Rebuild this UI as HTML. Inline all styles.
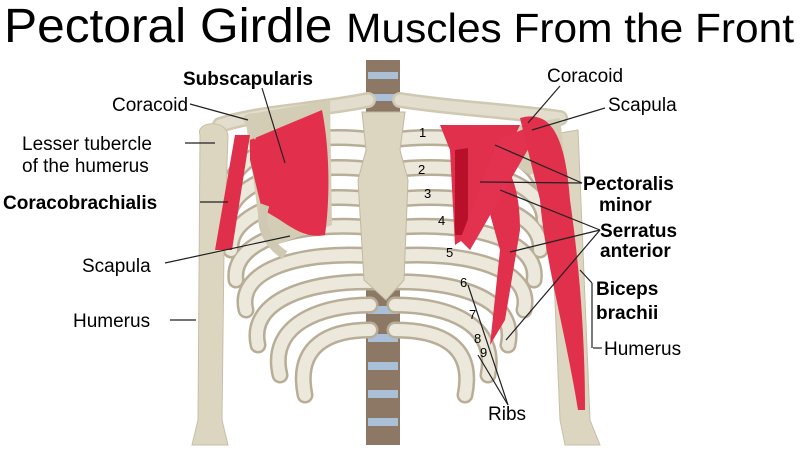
<!DOCTYPE html>
<html><head><meta charset="utf-8"><style>
html,body{margin:0;padding:0;background:#fff;}
svg{display:block;}
text{font-family:"Liberation Sans",sans-serif;}
</style></head><body>
<svg width="800" height="450" viewBox="0 0 800 450" xmlns="http://www.w3.org/2000/svg">
<rect width="800" height="450" fill="#fff"/>
<text x="4" y="42" font-size="48" fill="#000" textLength="790" lengthAdjust="spacingAndGlyphs">Pectoral Girdle <tspan font-size="41">Muscles From the Front</tspan></text>

<!-- spine -->
<g>
<rect x="366" y="60" width="34" height="60" fill="#8c7864"/>
<rect x="366" y="285" width="34" height="160" fill="#8c7864"/>
<g fill="#a9c0d8">
<rect x="368" y="72" width="30" height="7"/><rect x="368" y="94" width="30" height="7"/>
<rect x="368" y="306" width="30" height="8"/><rect x="368" y="334" width="30" height="8"/>
<rect x="368" y="362" width="30" height="8"/><rect x="368" y="390" width="30" height="8"/><rect x="368" y="418" width="30" height="8"/>
</g>
</g>

<g fill="none" stroke-linecap="round">
<g stroke="#b8ae98" stroke-width="17">
<path d="M375 140 C300 130 236 150 228 190"/>
<path d="M375 170 C300 160 230 180 228 220"/>
<path d="M375 200 C300 190 228 210 231 250"/>
<path d="M375 228 C300 220 231 240 236 280"/>
<path d="M375 256 C300 250 236 270 246 310"/>
<path d="M375 282 C310 280 248 300 258 345"/>
<path d="M370 305 C320 305 268 325 280 375"/>
<path d="M370 330 C330 330 295 345 305 395"/>
<path d="M390 140 C470 130 534 150 544 190"/>
<path d="M390 170 C470 160 544 180 544 220"/>
<path d="M390 200 C470 190 544 210 540 250"/>
<path d="M390 228 C470 220 540 240 534 280"/>
<path d="M390 256 C470 250 534 270 524 310"/>
<path d="M390 282 C460 280 518 300 508 345"/>
<path d="M395 305 C450 305 498 325 488 375"/>
<path d="M395 330 C440 330 475 345 465 395"/>
</g>
<g stroke="#ece8dc" stroke-width="12">
<path d="M375 140 C300 130 236 150 228 190"/>
<path d="M375 170 C300 160 230 180 228 220"/>
<path d="M375 200 C300 190 228 210 231 250"/>
<path d="M375 228 C300 220 231 240 236 280"/>
<path d="M375 256 C300 250 236 270 246 310"/>
<path d="M375 282 C310 280 248 300 258 345"/>
<path d="M370 305 C320 305 268 325 280 375"/>
<path d="M370 330 C330 330 295 345 305 395"/>
<path d="M390 140 C470 130 534 150 544 190"/>
<path d="M390 170 C470 160 544 180 544 220"/>
<path d="M390 200 C470 190 544 210 540 250"/>
<path d="M390 228 C470 220 540 240 534 280"/>
<path d="M390 256 C470 250 534 270 524 310"/>
<path d="M390 282 C460 280 518 300 508 345"/>
<path d="M395 305 C450 305 498 325 488 375"/>
<path d="M395 330 C440 330 475 345 465 395"/>
</g>
</g>

<!-- sternum -->
<path d="M362 112 L405 112 L400 150 L408 180 L404 280 L386 300 L364 280 L358 180 L366 150 Z" fill="#dcd6c0" stroke="#c0b8a0"/>

<!-- clavicles -->
<path d="M220 125 C260 112 320 110 368 100" stroke="#cfc8b2" stroke-width="16" fill="none" stroke-linecap="round"/>
<path d="M220 125 C260 112 320 110 368 100" stroke="#e2ddcc" stroke-width="11" fill="none" stroke-linecap="round"/>
<path d="M400 100 C450 108 500 110 560 118" stroke="#cfc8b2" stroke-width="16" fill="none" stroke-linecap="round"/>
<path d="M400 100 C450 108 500 110 560 118" stroke="#e2ddcc" stroke-width="11" fill="none" stroke-linecap="round"/>

<!-- left humerus -->
<path d="M200 135 C195 122 225 118 228 135 L224 250 L222 420 L228 445 L192 445 L198 420 Z" fill="#dcd6c0" stroke="#c6bfa8"/>
<!-- right humerus -->
<path d="M548 135 L578 130 L590 420 L600 445 L565 445 L560 420 Z" fill="#dcd6c0" stroke="#c6bfa8"/>
<path d="M520 125 L560 118 L565 160 L530 175 L505 160 Z" fill="#d4cdb6"/>

<!-- left scapula & subscapularis -->
<path d="M245 115 L330 100 L332 225 L275 245 L260 230 Z" fill="#d4cdb6"/>
<path d="M250 140 L322 110 C330 150 330 200 325 235 C300 240 285 220 262 210 L250 160 Z" fill="#e2304c"/>
<path d="M242 118 C250 110 262 112 262 122 L255 140 Z" fill="#d4cdb6"/>
<path d="M265 205 C258 225 268 245 285 255" stroke="#cfc8b2" stroke-width="9" fill="none"/>
<path d="M235 135 L250 135 L232 250 L215 250 Z" fill="#df2f4b"/>

<!-- right muscles -->
<path d="M440 125 L520 125 L470 235 L455 245 L450 150 Z" fill="#e0304b"/>
<path d="M455 150 L468 148 L468 235 L455 235 Z" fill="#b8102a"/>
<path d="M475 160 C500 150 520 170 520 230 L505 320 L490 345 L500 250 Z" fill="#e0304b"/>
<path d="M498 140 L545 120 L470 250 L460 240 Z" fill="#e23250"/>
<path d="M520 118 C548 110 565 130 570 200 C580 270 585 340 585 410 L578 410 C565 330 545 260 540 200 Z" fill="#e0304b"/>

<g font-size="13" fill="#000">
<text x="419" y="137">1</text><text x="418" y="174">2</text><text x="424" y="198">3</text>
<text x="438" y="225">4</text><text x="446" y="257">5</text><text x="460" y="287">6</text>
<text x="469" y="319">7</text><text x="474" y="343">8</text><text x="480" y="357">9</text>
</g>

<g stroke="#222" stroke-width="1.2" fill="none">
<line x1="190" y1="104" x2="248" y2="120"/>
<line x1="262" y1="88" x2="285" y2="163"/>
<line x1="185" y1="143" x2="215" y2="143"/>
<line x1="200" y1="202" x2="228" y2="202"/>
<line x1="165" y1="263" x2="290" y2="236"/>
<line x1="170" y1="320" x2="196" y2="320"/>
<line x1="560" y1="86" x2="528" y2="123"/>
<line x1="605" y1="108" x2="532" y2="130"/>
<line x1="582" y1="183" x2="495" y2="145"/>
<line x1="582" y1="183" x2="480" y2="182"/>
<line x1="600" y1="230" x2="500" y2="190"/>
<line x1="600" y1="230" x2="510" y2="252"/>
<line x1="600" y1="230" x2="506" y2="340"/>
<line x1="592" y1="283" x2="580" y2="270"/>
<line x1="592" y1="283" x2="592" y2="348"/>
<line x1="602" y1="348" x2="593" y2="348"/>
<line x1="508" y1="405" x2="468" y2="285"/>
<line x1="508" y1="405" x2="478" y2="355"/>
</g>

<g font-size="19" fill="#000">
<text x="183" y="85" font-weight="bold">Subscapularis</text>
<text x="112" y="111">Coracoid</text>
<text x="22" y="150">Lesser tubercle</text>
<text x="22" y="172">of the humerus</text>
<text x="3" y="209" font-weight="bold">Coracobrachialis</text>
<text x="82" y="272">Scapula</text>
<text x="73" y="327">Humerus</text>
<text x="547" y="82">Coracoid</text>
<text x="608" y="111">Scapula</text>
<text x="583" y="190" font-weight="bold">Pectoralis</text>
<text x="599" y="211" font-weight="bold">minor</text>
<text x="600" y="237" font-weight="bold">Serratus</text>
<text x="600" y="257" font-weight="bold">anterior</text>
<text x="596" y="295" font-weight="bold">Biceps</text>
<text x="596" y="319" font-weight="bold">brachii</text>
<text x="604" y="355">Humerus</text>
<text x="488" y="420">Ribs</text>
</g>
</svg>
</body></html>
